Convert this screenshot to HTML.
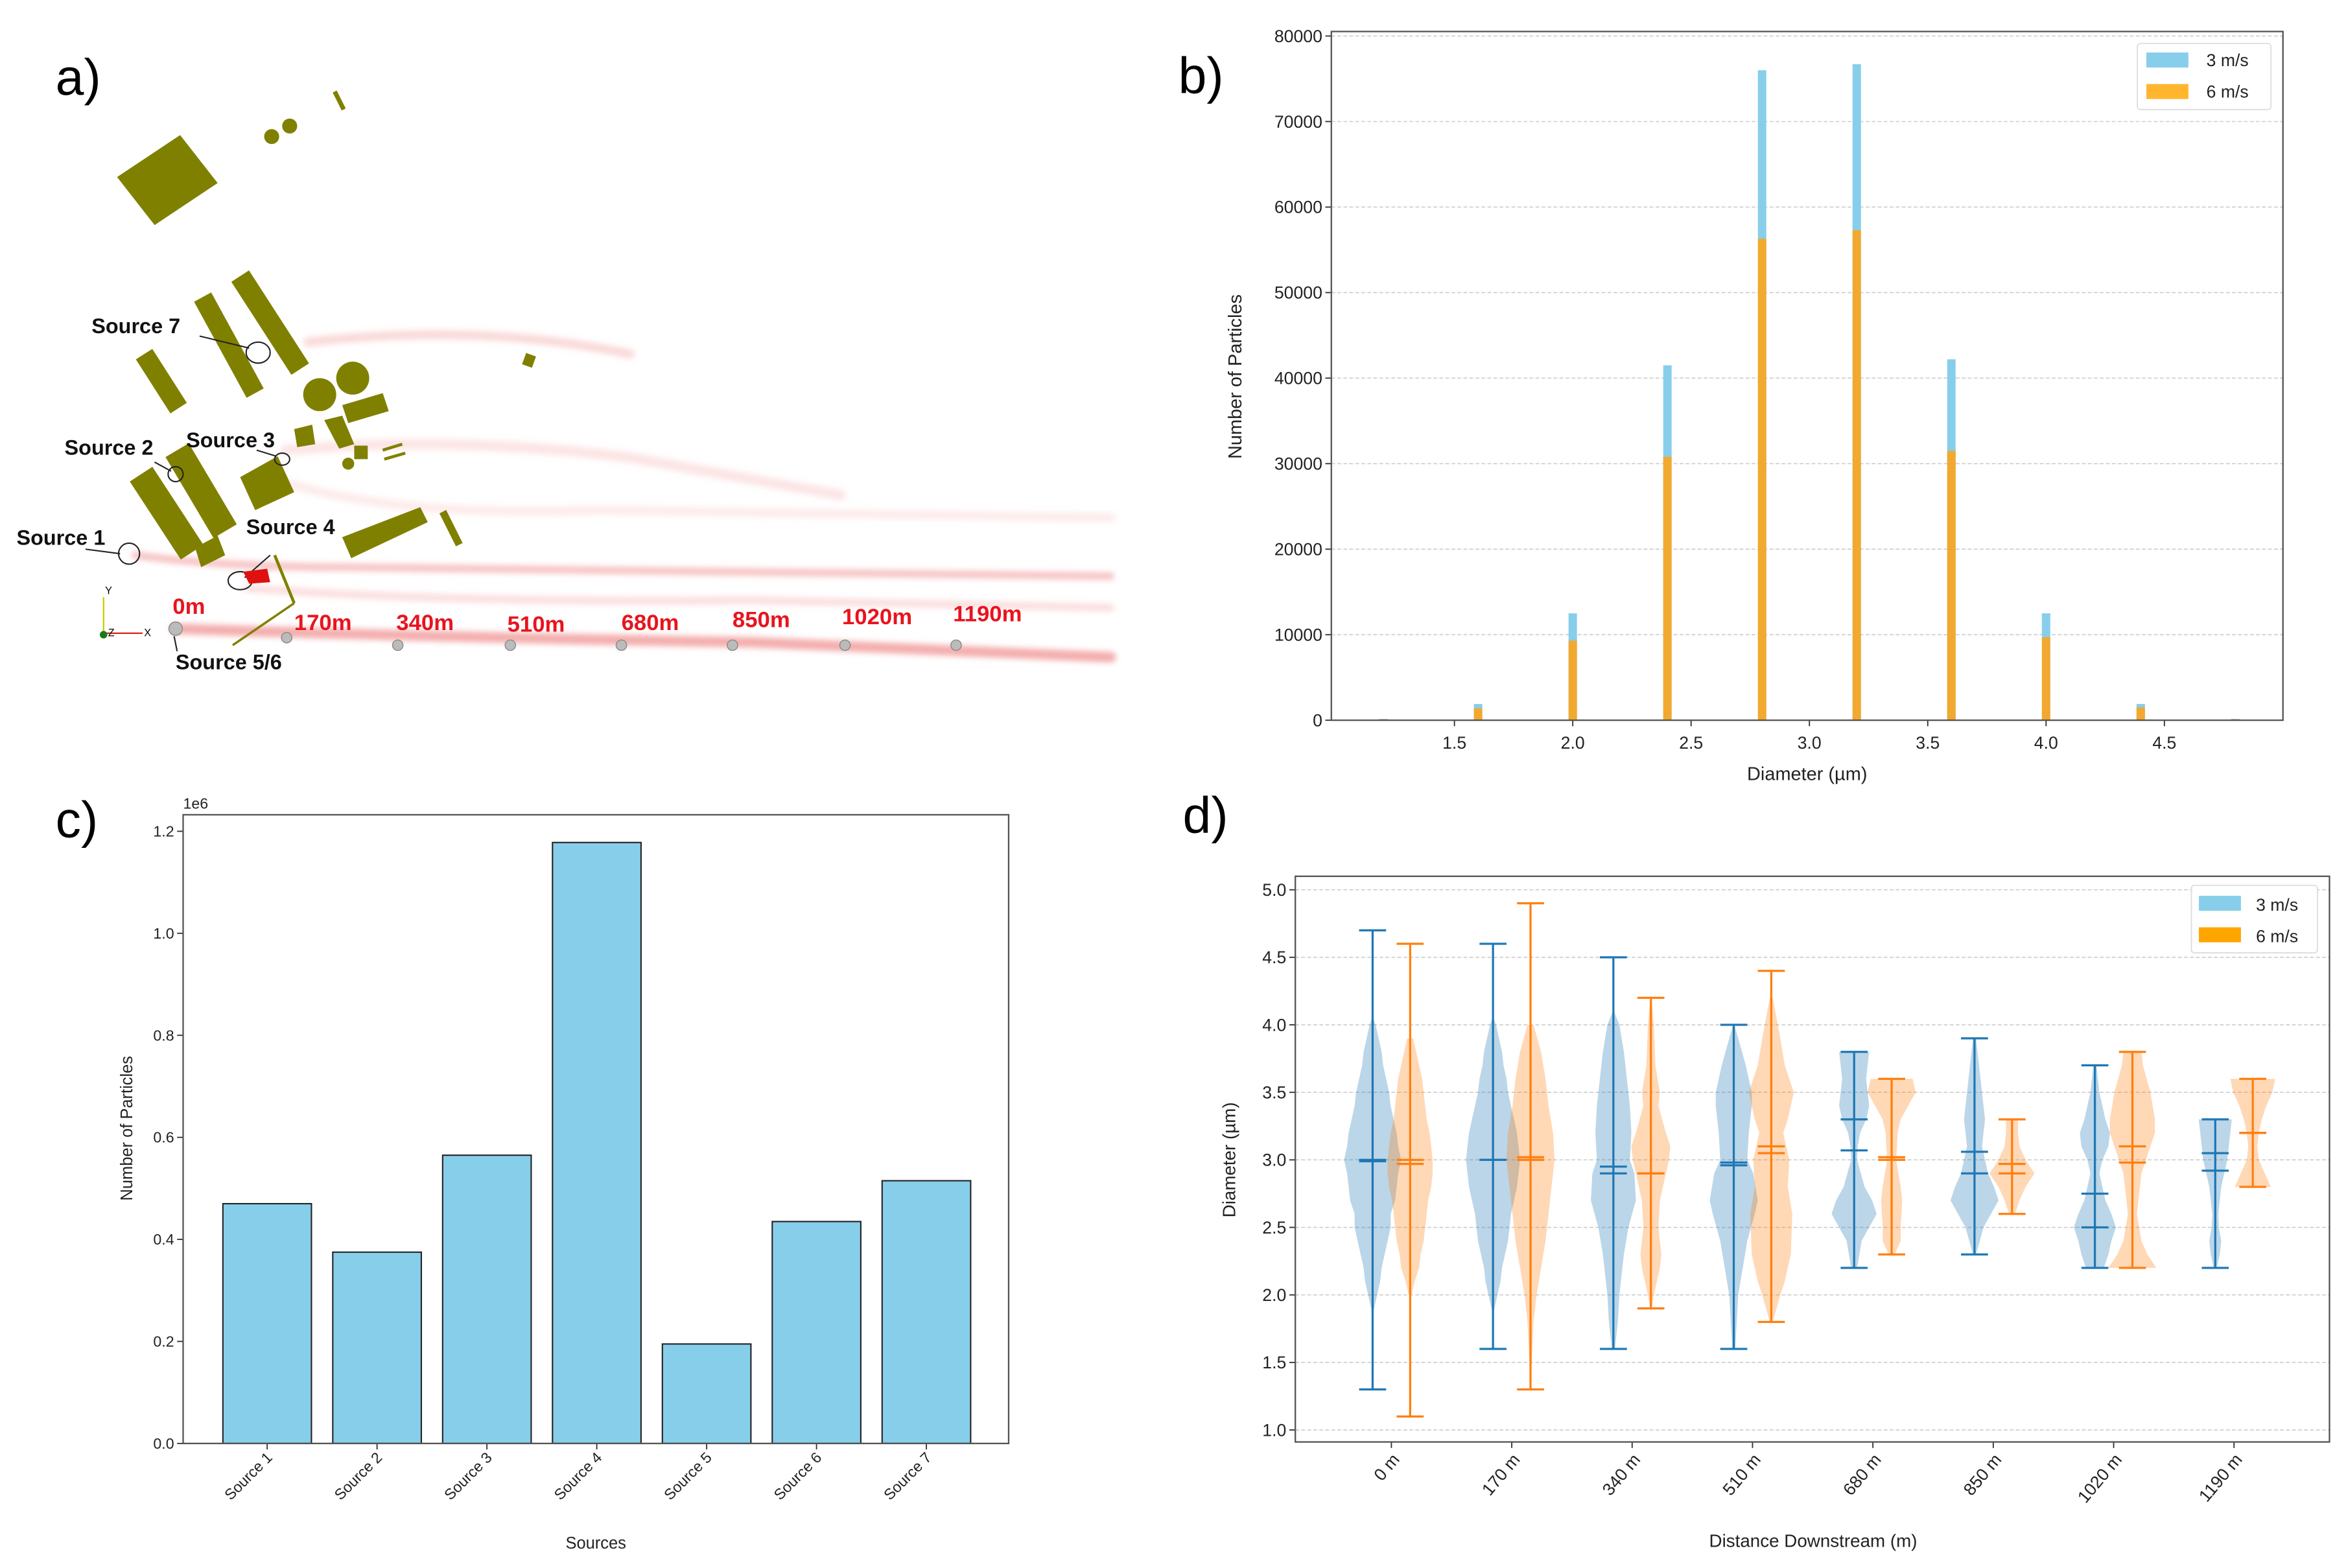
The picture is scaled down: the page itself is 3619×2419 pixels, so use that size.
<!DOCTYPE html>
<html><head><meta charset="utf-8">
<style>
html,body{margin:0;padding:0;background:#fff;}
svg{display:block;font-family:"Liberation Sans","DejaVu Sans",sans-serif;}
</style></head>
<body>
<svg id="fig" width="3619" height="2419" viewBox="0 0 1563 1045" preserveAspectRatio="none" xmlns="http://www.w3.org/2000/svg">
<defs>
<filter id="blur2" x="-20%" y="-200%" width="140%" height="500%"><feGaussianBlur stdDeviation="2"/></filter>
</defs>
<rect x="0" y="0" width="1563" height="1045" fill="#fff"/>
<text x="37" y="63" font-size="34">a)</text>
<text x="785" y="62" font-size="34">b)</text>
<text x="37" y="558" font-size="34">c)</text>
<text x="788" y="555" font-size="34">d)</text>

<g id="panelA">
  <g filter="url(#blur2)" fill="none" stroke-linecap="round">
    <path d="M205,228 Q320,215 420,236" stroke="#f6b3b3" stroke-width="6" opacity="0.5"/>
    <path d="M190,300 Q300,290 420,305 L560,330" stroke="#f9c6c6" stroke-width="7" opacity="0.45"/>
    <path d="M185,320 Q260,345 400,340 L740,345" stroke="#fad2d2" stroke-width="6" opacity="0.45"/>
    <path d="M90,370 Q150,378 230,378 L740,384" stroke="#f29a9a" stroke-width="5" opacity="0.6"/>
    <path d="M165,392 Q300,402 500,400 L740,405" stroke="#f7bcbc" stroke-width="5" opacity="0.5"/>
    <path d="M117,419 Q300,425 500,428 L740,438" stroke="#ee8080" stroke-width="7" opacity="0.65"/>
  </g>
  <g fill="#808000">
    <polygon points="78,118 120,90 145,122 103,150"/>
    <circle cx="181" cy="91" r="5"/><circle cx="193" cy="84" r="5"/>
    <line x1="223" y1="61" x2="229" y2="73" stroke="#808000" stroke-width="3"/>
    <line x1="135" y1="198" x2="170" y2="262" stroke="#808000" stroke-width="13"/>
    <line x1="160" y1="184" x2="200" y2="246" stroke="#808000" stroke-width="14"/>
    <line x1="96" y1="236" x2="119" y2="272" stroke="#808000" stroke-width="13"/>
    <circle cx="213" cy="263" r="11"/><circle cx="235" cy="252" r="11"/>
    <polygon points="228,270 255,262 259,274 232,282"/>
    <polygon points="216,280 228,277 236,296 226,299"/>
    <polygon points="196,286 208,283 210,296 198,298"/>
    <rect x="236" y="297" width="9" height="9"/><circle cx="232" cy="309" r="4"/>
    <line x1="255" y1="300" x2="268" y2="296" stroke="#808000" stroke-width="2"/>
    <line x1="256" y1="306" x2="270" y2="302" stroke="#808000" stroke-width="2"/>
    <line x1="94" y1="316" x2="128" y2="368" stroke="#808000" stroke-width="18"/>
    <line x1="118" y1="300" x2="150" y2="354" stroke="#808000" stroke-width="18"/>
    <polygon points="160,318 185,304 196,328 170,340"/>
    <polygon points="228,358 280,338 285,348 234,372"/>
    <line x1="295" y1="341" x2="306" y2="363" stroke="#808000" stroke-width="5"/>
    <polygon points="130,365 145,357 150,370 134,378"/>
    <rect x="349" y="236" width="7" height="8" transform="rotate(20 352 240)"/>
    <line x1="183" y1="370" x2="196" y2="402" stroke="#808000" stroke-width="2"/>
    <line x1="196" y1="402" x2="155" y2="430" stroke="#808000" stroke-width="1.5"/>
  </g>
  <g fill="none" stroke="#222" stroke-width="0.9">
    <ellipse cx="172" cy="235" rx="8" ry="7"/>
    <ellipse cx="117" cy="316" rx="5" ry="5"/>
    <ellipse cx="188" cy="306" rx="5" ry="4"/>
    <ellipse cx="86" cy="369" rx="7" ry="7"/>
    <ellipse cx="160" cy="387" rx="8" ry="6"/>
    <line x1="133" y1="224" x2="166" y2="232"/>
    <line x1="103" y1="308" x2="114" y2="314"/>
    <line x1="171" y1="300" x2="184" y2="304"/>
    <line x1="57" y1="366" x2="80" y2="369"/>
    <line x1="180" y1="370" x2="163" y2="385"/>
    <line x1="118" y1="434" x2="116" y2="424"/>
  </g>
  <path d="M162,381 L178,379 L180,388 L166,389 Z" fill="#e01010"/>
  <g font-size="14" font-weight="bold" fill="#111">
    <text x="61" y="222">Source 7</text>
    <text x="43" y="303">Source 2</text>
    <text x="124" y="298">Source 3</text>
    <text x="11" y="363">Source 1</text>
    <text x="164" y="356">Source 4</text>
    <text x="117" y="446">Source 5/6</text>
  </g>
  <g font-size="15" font-weight="bold" fill="#e8141e">
    <text x="115" y="409">0m</text>
    <text x="196" y="420">170m</text>
    <text x="264" y="420">340m</text>
    <text x="338" y="421">510m</text>
    <text x="414" y="420">680m</text>
    <text x="488" y="418">850m</text>
    <text x="561" y="416">1020m</text>
    <text x="635" y="414">1190m</text>
  </g>
  <g fill="#bbb" stroke="#888" stroke-width="0.6">
    <circle cx="117" cy="419" r="4.5"/><circle cx="191" cy="425" r="3.5"/><circle cx="265" cy="430" r="3.5"/>
    <circle cx="340" cy="430" r="3.5"/><circle cx="414" cy="430" r="3.5"/><circle cx="488" cy="430" r="3.5"/>
    <circle cx="563" cy="430" r="3.5"/><circle cx="637" cy="430" r="3.5"/>
  </g>
  <g font-size="7">
    <line x1="69" y1="422" x2="69" y2="398" stroke="#cc0" stroke-width="1"/>
    <line x1="69" y1="422" x2="95" y2="422" stroke="#d22" stroke-width="1"/>
    <circle cx="69" cy="423" r="2.5" fill="#1a7a1a"/>
    <text x="70" y="396">Y</text><text x="72" y="424">Z</text><text x="96" y="424">X</text>
  </g>
</g>

<g id="panelB"></g>
<g id="panelC"></g>
<g id="panelD"></g>
</svg>

<script>
// ---------- Panel b data ----------
const bDiameters = [1.2, 1.6, 2.0, 2.4, 2.8, 3.2, 3.6, 4.0, 4.4, 4.8];
const bCounts3 = [150, 1900, 12500, 41500, 76000, 76700, 42200, 12500, 1900, 150];
const bCounts6 = [100, 1400, 9300, 30800, 56300, 57300, 31500, 9700, 1500, 100];
const bYTicks = [0, 10000, 20000, 30000, 40000, 50000, 60000, 70000, 80000];
const bXTicks = [1.5, 2.0, 2.5, 3.0, 3.5, 4.0, 4.5];
const bXTickLabels = ["1.5", "2.0", "2.5", "3.0", "3.5", "4.0", "4.5"];

// ---------- Panel c data ----------
const cSources = ["Source 1", "Source 2", "Source 3", "Source 4", "Source 5", "Source 6", "Source 7"];
const cCounts = [0.470, 0.375, 0.565, 1.178, 0.195, 0.435, 0.515];
const cYTicks = [0.0, 0.2, 0.4, 0.6, 0.8, 1.0, 1.2];
const cYTickLabels = ["0.0", "0.2", "0.4", "0.6", "0.8", "1.0", "1.2"];

// ---------- Panel d data ----------
const dDistances = ["0 m", "170 m", "340 m", "510 m", "680 m", "850 m", "1020 m", "1190 m"];
const dYTicks = [1.0, 1.5, 2.0, 2.5, 3.0, 3.5, 4.0, 4.5, 5.0];
const dYTickLabels = ["1.0", "1.5", "2.0", "2.5", "3.0", "3.5", "4.0", "4.5", "5.0"];
const dMin3 = [1.3, 1.6, 1.6, 1.6, 2.2, 2.3, 2.2, 2.2];
const dMax3 = [4.7, 4.6, 4.5, 4.0, 3.8, 3.9, 3.7, 3.3];
const dMean3 = [3.0, 3.0, 2.95, 2.98, 3.07, 3.06, 2.75, 3.05];
const dMedian3 = [2.99, 3.0, 2.9, 2.96, 3.3, 2.9, 2.5, 2.92];
const dMin6 = [1.1, 1.3, 1.9, 1.8, 2.3, 2.6, 2.2, 2.8];
const dMax6 = [4.6, 4.9, 4.2, 4.4, 3.6, 3.3, 3.8, 3.6];
const dMean6 = [3.0, 3.02, 2.9, 3.1, 3.02, 2.97, 3.1, 3.2];
const dMedian6 = [2.97, 3.0, 2.9, 3.05, 3.0, 2.9, 2.98, 3.2];
const dKdeY3 = [
  [1.9,2.0,2.1,2.2,2.3,2.4,2.5,2.6,2.7,2.8,2.9,3.0,3.1,3.2,3.3,3.4,3.5,3.6,3.7,3.8,3.9,4.0,4.05],
  [1.9,2.0,2.1,2.2,2.3,2.4,2.5,2.6,2.7,2.8,2.9,3.0,3.1,3.2,3.3,3.4,3.5,3.6,3.7,3.8,3.9,4.0,4.05],
  [1.6,1.8,2.0,2.2,2.3,2.5,2.7,2.9,3.0,3.2,3.4,3.6,3.8,4.0,4.1],
  [1.6,1.8,2.0,2.2,2.4,2.6,2.7,2.9,3.0,3.2,3.4,3.5,3.7,3.9,4.0],
  [2.2,2.4,2.5,2.6,2.7,2.8,3.0,3.1,3.2,3.3,3.4,3.6,3.7,3.8],
  [2.3,2.5,2.6,2.7,2.8,2.9,3.1,3.2,3.3,3.5,3.7,3.9],
  [2.2,2.3,2.4,2.5,2.6,2.7,2.9,3.0,3.1,3.2,3.3,3.5,3.7],
  [2.2,2.3,2.4,2.5,2.6,2.8,2.9,3.0,3.1,3.2,3.3]
];
const dKdeW3 = [
  [0.05,0.15,0.25,0.3,0.4,0.5,0.6,0.6,0.75,0.8,0.85,0.95,0.85,0.8,0.7,0.6,0.55,0.45,0.35,0.3,0.2,0.1,0.02],
  [0.05,0.15,0.25,0.3,0.4,0.5,0.55,0.6,0.7,0.8,0.85,0.9,0.85,0.8,0.7,0.6,0.5,0.45,0.35,0.3,0.2,0.1,0.02],
  [0.05,0.15,0.2,0.3,0.35,0.5,0.75,0.7,0.55,0.6,0.55,0.45,0.35,0.2,0.02],
  [0.05,0.1,0.15,0.3,0.45,0.7,0.8,0.65,0.45,0.5,0.6,0.6,0.4,0.15,0.02],
  [0.1,0.25,0.5,0.75,0.6,0.35,0.1,0.12,0.2,0.4,0.5,0.4,0.45,0.5],
  [0.05,0.3,0.55,0.8,0.65,0.45,0.25,0.3,0.35,0.25,0.15,0.05],
  [0.3,0.45,0.55,0.7,0.55,0.35,0.15,0.25,0.45,0.5,0.35,0.15,0.05],
  [0.05,0.15,0.2,0.12,0.1,0.2,0.3,0.4,0.45,0.5,0.55]
];
const dKdeY6 = [
  [2.0,2.1,2.2,2.3,2.4,2.5,2.6,2.7,2.8,2.9,3.0,3.1,3.2,3.3,3.4,3.5,3.6,3.7,3.8,3.9],
  [1.4,1.8,2.0,2.2,2.4,2.6,2.8,3.0,3.2,3.4,3.6,3.8,4.0],
  [1.9,2.0,2.2,2.3,2.5,2.7,2.9,3.0,3.1,3.2,3.4,3.5,3.7,4.0,4.2],
  [1.8,2.0,2.1,2.3,2.6,2.8,3.0,3.2,3.3,3.5,3.7,3.9,4.2],
  [2.3,2.4,2.5,2.7,2.8,3.0,3.2,3.3,3.4,3.5,3.6],
  [2.6,2.7,2.8,2.9,3.0,3.1,3.2,3.3],
  [2.2,2.3,2.4,2.6,2.8,2.9,3.0,3.1,3.2,3.3,3.5,3.7,3.8],
  [2.8,2.9,3.0,3.1,3.2,3.3,3.4,3.5,3.6]
];
const dKdeW6 = [
  [0.05,0.15,0.3,0.35,0.45,0.5,0.55,0.6,0.7,0.75,0.75,0.7,0.65,0.55,0.5,0.45,0.4,0.3,0.2,0.1],
  [0.02,0.1,0.2,0.35,0.5,0.6,0.7,0.8,0.75,0.6,0.5,0.35,0.1],
  [0.02,0.1,0.3,0.35,0.25,0.3,0.5,0.6,0.65,0.5,0.25,0.3,0.15,0.1,0.02],
  [0.05,0.3,0.45,0.65,0.7,0.55,0.6,0.4,0.55,0.75,0.45,0.3,0.05],
  [0.1,0.3,0.3,0.35,0.3,0.15,0.2,0.3,0.55,0.8,0.7],
  [0.1,0.25,0.45,0.75,0.45,0.25,0.2,0.2],
  [0.8,0.5,0.3,0.15,0.25,0.3,0.45,0.6,0.75,0.75,0.6,0.35,0.3],
  [0.6,0.4,0.2,0.15,0.2,0.3,0.45,0.65,0.75]
];

const NS = "http://www.w3.org/2000/svg";
function mk(parent, tag, attrs, txt) {
  const e = document.createElementNS(NS, tag);
  for (const k in attrs) e.setAttribute(k, attrs[k]);
  if (txt !== undefined) e.textContent = txt;
  parent.appendChild(e);
  return e;
}

// ================= Panel b =================
(function () {
  const g = document.getElementById("panelB");
  const L = 887, R = 1521, T = 21, B = 480;
  const xb = v => 969 + (v - 1.5) * 157.67;
  const yb = v => B - v * (456 / 80000);
  bYTicks.forEach(t => {
    const gl = mk(g, "line", {x1: L, x2: R, y1: yb(t), y2: yb(t), stroke: "#ccc", "stroke-width": 0.7, "stroke-dasharray": "2.5,1.5"});
    
    
    const tk = mk(g, "line", {x1: L - 4, x2: L, y1: yb(t), y2: yb(t), stroke: "#333", "stroke-width": 0.8});
    
    
    const lb = mk(g, "text", {x: L - 6, y: yb(t) + 4, "font-size": 11.5, "text-anchor": "end", fill: "#222"}, String(t));
    
    
  });
  bXTicks.forEach((t, i) => {
    const tk = mk(g, "line", {x1: xb(t), x2: xb(t), y1: B, y2: B + 4, stroke: "#333", "stroke-width": 0.8});
    
    
    const lb = mk(g, "text", {x: xb(t), y: B + 19, "font-size": 11.5, "text-anchor": "middle", fill: "#222"}, bXTickLabels[i]);
    
    
  });
  const bw = 5.6;
  bDiameters.forEach((d, i) => {
    const r1 = mk(g, "rect", {x: xb(d) - bw / 2, y: yb(bCounts3[i]), width: bw, height: B - yb(bCounts3[i]), fill: "#87ceeb"});
    
    
    const r2 = mk(g, "rect", {x: xb(d) - bw / 2, y: yb(bCounts6[i]), width: bw, height: B - yb(bCounts6[i]), fill: "#f2a930"});
    
    
  });
  const fr = mk(g, "rect", {x: L, y: T, width: R - L, height: B - T, fill: "none", stroke: "#555", "stroke-width": 1});
  
  
  const xl = mk(g, "text", {x: (L + R) / 2, y: 520, "font-size": 12.5, "text-anchor": "middle", fill: "#222"}, "Diameter (µm)");
  
  
  const yl = mk(g, "text", {x: 0, y: 0, "font-size": 12.5, "text-anchor": "middle", fill: "#222", transform: "translate(827,251) rotate(-90)"}, "Number of Particles");
  
  
  const lg = mk(g, "g", {});
  
  
  mk(lg, "rect", {x: 1424, y: 29, width: 89, height: 44, fill: "#fff", stroke: "#ddd", "stroke-width": 0.8, rx: 2});
  const p1 = mk(lg, "rect", {x: 1430, y: 35, width: 28, height: 10, fill: "#87ceeb"});
  
  
  mk(lg, "text", {x: 1470, y: 44, "font-size": 11.5, fill: "#222"}, "3 m/s");
  const p2 = mk(lg, "rect", {x: 1430, y: 56, width: 28, height: 10, fill: "#ffb62e"});
  
  
  mk(lg, "text", {x: 1470, y: 65, "font-size": 11.5, fill: "#222"}, "6 m/s");
})();

// ================= Panel c =================
(function () {
  const g = document.getElementById("panelC");
  const L = 122, R = 672, T = 543, B = 962;
  const yc = v => B - v * 340;
  const xc = i => 178 + i * 73.2;
  cYTicks.forEach((t, i) => {
    const tk = mk(g, "line", {x1: L - 4, x2: L, y1: yc(t), y2: yc(t), stroke: "#333", "stroke-width": 0.8});
    
    
    const lb = mk(g, "text", {x: L - 6, y: yc(t) + 3.5, "font-size": 10, "text-anchor": "end", fill: "#222"}, cYTickLabels[i]);
    
    
  });
  cSources.forEach((s, i) => {
    const r = mk(g, "rect", {x: xc(i) - 29.5, y: yc(cCounts[i]), width: 59, height: B - yc(cCounts[i]), fill: "#87ceeb", stroke: "#222", "stroke-width": 0.9});
    
    
    const tk = mk(g, "line", {x1: xc(i), x2: xc(i), y1: B, y2: B + 4, stroke: "#333", "stroke-width": 0.8});
    
    
    const lb = mk(g, "text", {x: 0, y: 0, "font-size": 10, "text-anchor": "end", fill: "#222", transform: `translate(${xc(i) + 4},${B + 10}) rotate(-45)`}, s);
    
    
  });
  const fr = mk(g, "rect", {x: L, y: T, width: R - L, height: B - T, fill: "none", stroke: "#555", "stroke-width": 1});
  
  
  const off = mk(g, "text", {x: L, y: 539, "font-size": 10, fill: "#222"}, "1e6");
  
  
  const xl = mk(g, "text", {x: (L + R) / 2, y: 1032, "font-size": 11, "text-anchor": "middle", fill: "#222"}, "Sources");
  
  
  const yl = mk(g, "text", {x: 0, y: 0, "font-size": 11, "text-anchor": "middle", fill: "#222", transform: "translate(88,752) rotate(-90)"}, "Number of Particles");
  
  
})();

// ================= Panel d =================
(function () {
  const g = document.getElementById("panelD");
  const L = 863, R = 1552, T = 584, B = 961;
  const yd = v => 953 - (v - 1) * 90;
  const xd = i => 927 + 80.2 * i;
  const maxHW = 20, capHW = 9;
  dYTicks.forEach((t, i) => {
    const gl = mk(g, "line", {x1: L, x2: R, y1: yd(t), y2: yd(t), stroke: "#ccc", "stroke-width": 0.7, "stroke-dasharray": "2.5,1.5"});
    
    
    const tk = mk(g, "line", {x1: L - 4, x2: L, y1: yd(t), y2: yd(t), stroke: "#333", "stroke-width": 0.8});
    
    
    const lb = mk(g, "text", {x: L - 6, y: yd(t) + 4, "font-size": 11.5, "text-anchor": "end", fill: "#222"}, dYTickLabels[i]);
    
    
  });
  function violin(cx, ys, ws, mn, mx, mean, med, fill, line, name) {
    const vg = mk(g, "g", {});
    
    
    let pts = [];
    ys.forEach((y, k) => pts.push(`${cx + ws[k] * maxHW},${yd(y)}`));
    for (let k = ys.length - 1; k >= 0; k--) pts.push(`${cx - ws[k] * maxHW},${yd(ys[k])}`);
    const body = mk(vg, "polygon", {points: pts.join(" "), fill: fill, "fill-opacity": 0.3});
    
    
    const st = {stroke: line, "stroke-width": 1.4};
    mk(vg, "line", Object.assign({x1: cx, x2: cx, y1: yd(mn), y2: yd(mx)}, st));
    mk(vg, "line", Object.assign({x1: cx - capHW, x2: cx + capHW, y1: yd(mn), y2: yd(mn)}, st));
    mk(vg, "line", Object.assign({x1: cx - capHW, x2: cx + capHW, y1: yd(mx), y2: yd(mx)}, st));
    mk(vg, "line", Object.assign({x1: cx - capHW, x2: cx + capHW, y1: yd(mean), y2: yd(mean)}, st));
    mk(vg, "line", Object.assign({x1: cx - capHW, x2: cx + capHW, y1: yd(med), y2: yd(med)}, st));
  }
  dDistances.forEach((d, i) => {
    violin(xd(i) - 12.5, dKdeY3[i], dKdeW3[i], dMin3[i], dMax3[i], dMean3[i], dMedian3[i], "#1f77b4", "#1f77b4", "violin-3ms");
    violin(xd(i) + 12.5, dKdeY6[i], dKdeW6[i], dMin6[i], dMax6[i], dMean6[i], dMedian6[i], "#ff7f0e", "#ff7f0e", "violin-6ms");
    const tk = mk(g, "line", {x1: xd(i), x2: xd(i), y1: B, y2: B + 4, stroke: "#333", "stroke-width": 0.8});
    
    
    const lb = mk(g, "text", {x: 0, y: 0, "font-size": 11.5, "text-anchor": "end", fill: "#222", transform: `translate(${xd(i) + 6},${B + 12}) rotate(-50)`}, d);
    
    
  });
  const fr = mk(g, "rect", {x: L, y: T, width: R - L, height: B - T, fill: "none", stroke: "#555", "stroke-width": 1});
  
  
  const xl = mk(g, "text", {x: 1208, y: 1031, "font-size": 12, "text-anchor": "middle", fill: "#222"}, "Distance Downstream (m)");
  
  
  const yl = mk(g, "text", {x: 0, y: 0, "font-size": 12, "text-anchor": "middle", fill: "#222", transform: "translate(823,773) rotate(-90)"}, "Diameter (µm)");
  
  
  const lg = mk(g, "g", {});
  
  
  mk(lg, "rect", {x: 1460, y: 590, width: 84, height: 45, fill: "#fff", stroke: "#ddd", "stroke-width": 0.8, rx: 2});
  const p1 = mk(lg, "rect", {x: 1465, y: 597, width: 28, height: 10, fill: "#87ceeb"});
  
  
  mk(lg, "text", {x: 1503, y: 607, "font-size": 11.5, fill: "#222"}, "3 m/s");
  const p2 = mk(lg, "rect", {x: 1465, y: 618, width: 28, height: 10, fill: "#ffa500"});
  
  
  mk(lg, "text", {x: 1503, y: 628, "font-size": 11.5, fill: "#222"}, "6 m/s");
})();
</script>
</body></html>
